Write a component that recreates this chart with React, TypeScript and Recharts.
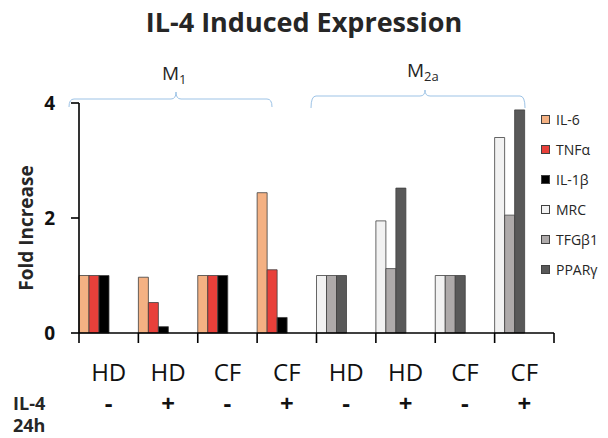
import { Bar, BarChart, Legend, XAxis, YAxis } from 'recharts';

// Categories (donor) and IL-4 24h stimulation, one per group of bars
const CATS = ['HD', 'HD', 'CF', 'CF', 'HD', 'HD', 'CF', 'CF'];
const IL4 = ['-', '+', '-', '+', '-', '+', '-', '+'];

// M1 markers (first four groups)
const IL6 = [1.0, 0.97, 1.0, 2.44, null, null, null, null];
const TNFA = [1.0, 0.53, 1.0, 1.1, null, null, null, null];
const IL1B = [1.0, 0.11, 1.0, 0.27, null, null, null, null];

// M2a markers (last four groups)
const MRC = [null, null, null, null, 1.0, 1.95, 1.0, 3.4];
const TFGB1 = [null, null, null, null, 1.0, 1.12, 1.0, 2.05];
const PPARG = [null, null, null, null, 1.0, 2.52, 1.0, 3.88];

const Y_TICKS = [0, 2, 4];

const M1_SERIES = [
  { key: 'il6', name: 'IL-6', color: '#F4B183', values: IL6 },
  { key: 'tnfa', name: 'TNFα', color: '#E8403A', values: TNFA },
  { key: 'il1b', name: 'IL-1β', color: '#000000', values: IL1B },
];
const M2_SERIES = [
  { key: 'mrc', name: 'MRC', color: '#F2F2F2', values: MRC },
  { key: 'tfgb1', name: 'TFGβ1', color: '#AEAAAA', values: TFGB1 },
  { key: 'pparg', name: 'PPARγ', color: '#595959', values: PPARG },
];
const ALL_SERIES = [...M1_SERIES, ...M2_SERIES];

const data = CATS.map((cat, i) => {
  const row: Record<string, string | number | null> = { cat, sign: IL4[i] };
  for (const s of ALL_SERIES) row[s.key] = s.values[i];
  return row;
});

const W = 608;
const H = 438;
const MARGIN = { top: 103, right: 54, bottom: 45, left: 39 };
const Y_AXIS_W = 40;
const X_AXIS_H = 60;
const PLOT_W = W - MARGIN.left - Y_AXIS_W - MARGIN.right;
const BAND = PLOT_W / CATS.length;
const AXIS_X = MARGIN.left + Y_AXIS_W;
const AXIS_Y = H - MARGIN.bottom - X_AXIS_H;

const FONT = '"Open Sans", "Liberation Sans", sans-serif';
const INK = '#262626';
const BRACKET = '#9DC3E6';
const BAR_STROKE = '#404040';

// x-axis: tick marks sit on the band edges, labels in the middle
function CategoryTick(props: any) {
  const { x, index } = props;
  const y = AXIS_Y;
  const left = x - BAND / 2;
  const right = x + BAND / 2;
  return (
    <g>
      <line x1={left} y1={y} x2={left} y2={y + 10} stroke="#000" strokeWidth={1.6} />
      {index === CATS.length - 1 && (
        <line x1={right} y1={y} x2={right} y2={y + 10} stroke="#000" strokeWidth={1.6} />
      )}
      <text x={x} y={y + 48} textAnchor="middle" fontSize={24} fontFamily={FONT} fill="#111">
        {CATS[index]}
      </text>
      <text
        x={x}
        y={y + 79}
        textAnchor="middle"
        fontSize={24}
        fontWeight={700}
        fontFamily={FONT}
        fill="#111"
      >
        {IL4[index]}
      </text>
    </g>
  );
}

function ValueTick(props: any) {
  const { y, payload } = props;
  return (
    <g>
      <line x1={AXIS_X - 8} y1={y} x2={AXIS_X} y2={y} stroke="#000" strokeWidth={1.6} />
      <text
        x={AXIS_X - 24}
        y={y}
        textAnchor="end"
        dominantBaseline="central"
        fontSize={19}
        fontWeight={700}
        fontFamily={FONT}
        fill="#111"
      >
        {payload.value}
      </text>
    </g>
  );
}

function LegendBox() {
  return (
    <div style={{ fontFamily: FONT }}>
      {ALL_SERIES.map((s) => (
        <div
          key={s.key}
          style={{ height: 30, display: 'flex', alignItems: 'center', fontSize: 14, color: INK }}
        >
          <span
            style={{
              width: 7,
              height: 7,
              background: s.color,
              border: `0.8px solid ${BAR_STROKE}`,
              marginRight: 6,
              display: 'inline-block',
            }}
          />
          {s.name}
        </div>
      ))}
    </div>
  );
}

function YLabel(props: any) {
  const vb = props.viewBox ?? { x: 0, y: 0, width: 0, height: 0 };
  const cx = vb.x - 13;
  const cy = vb.y + vb.height / 2 + 10;
  return (
    <text
      x={cx}
      y={cy}
      transform={`rotate(-90 ${cx} ${cy})`}
      textAnchor="middle"
      dominantBaseline="central"
      fontSize={19}
      fontWeight={700}
      fontFamily={FONT}
      fill={INK}
    >
      Fold Increase
    </text>
  );
}

export default function App() {
  return (
    <div
      style={{
        position: 'absolute',
        left: 0,
        top: 0,
        width: W,
        height: H,
        background: '#fff',
        fontFamily: FONT,
      }}
    >
      <BarChart width={W} height={H} data={data} margin={MARGIN} barCategoryGap={0} barGap={0}>
        <XAxis
          xAxisId="m1"
          dataKey="cat"
          height={X_AXIS_H}
          interval={0}
          tickLine={false}
          axisLine={{ stroke: '#000', strokeWidth: 1.6 }}
          tick={<CategoryTick />}
        />
        <XAxis xAxisId="m2" dataKey="cat" hide />
        <YAxis
          domain={[0, 4]}
          ticks={Y_TICKS}
          width={Y_AXIS_W}
          tickLine={false}
          axisLine={{ stroke: '#000', strokeWidth: 1.6 }}
          tick={<ValueTick />}
          label={<YLabel />}
        />
        <Legend
          layout="vertical"
          align="center"
          verticalAlign="middle"
          wrapperStyle={{ left: 541, top: 104, width: 67 }}
          content={() => <LegendBox />}
        />
        {M1_SERIES.map((s) => (
          <Bar
            key={s.key}
            xAxisId="m1"
            dataKey={s.key}
            name={s.name}
            fill={s.color}
            stroke={BAR_STROKE}
            strokeWidth={0.8}
            isAnimationActive={false}
          />
        ))}
        {/* empty slots keep each group's bars on the left half of its band */}
        {[0, 1, 2].map((i) => (
          <Bar key={`g1${i}`} xAxisId="m1" dataKey="none" legendType="none" isAnimationActive={false} />
        ))}
        {M2_SERIES.map((s) => (
          <Bar
            key={s.key}
            xAxisId="m2"
            dataKey={s.key}
            name={s.name}
            fill={s.color}
            stroke={BAR_STROKE}
            strokeWidth={0.8}
            isAnimationActive={false}
          />
        ))}
        {[0, 1, 2].map((i) => (
          <Bar key={`g2${i}`} xAxisId="m2" dataKey="none" legendType="none" isAnimationActive={false} />
        ))}
      </BarChart>

      <svg
        width={W}
        height={H}
        style={{ position: 'absolute', left: 0, top: 0, pointerEvents: 'none' }}
      >
        <text x={304} y={32} textAnchor="middle" fontSize={27} fontWeight={700} fontFamily={FONT} fill={INK}>
          IL-4 Induced Expression
        </text>

        <path
          d="M69 107 Q69 99 74 99 L171 99 Q176 99 176 92 Q176 99 181 99 L267 99 Q272 99 272 107"
          fill="none"
          stroke={BRACKET}
          strokeWidth={1}
        />
        <text x={162} y={80} fontSize={19} fontFamily={FONT} fill={INK}>
          M<tspan fontSize={13} dy={4}>1</tspan>
        </text>

        <path
          d="M311 108 Q311 96 316 96 L420 96 Q425 96 425 90 Q425 96 430 96 L520 96 Q525 96 525 108"
          fill="none"
          stroke={BRACKET}
          strokeWidth={1}
        />
        <text x={407} y={77} fontSize={19} fontFamily={FONT} fill={INK}>
          M<tspan fontSize={13} dy={4}>2a</tspan>
        </text>

        <text x={13} y={410} fontSize={18} fontWeight={700} fontFamily={FONT} fill={INK}>
          IL-4
        </text>
        <text x={13} y={432} fontSize={18} fontWeight={700} fontFamily={FONT} fill={INK}>
          24h
        </text>
      </svg>
    </div>
  );
}
